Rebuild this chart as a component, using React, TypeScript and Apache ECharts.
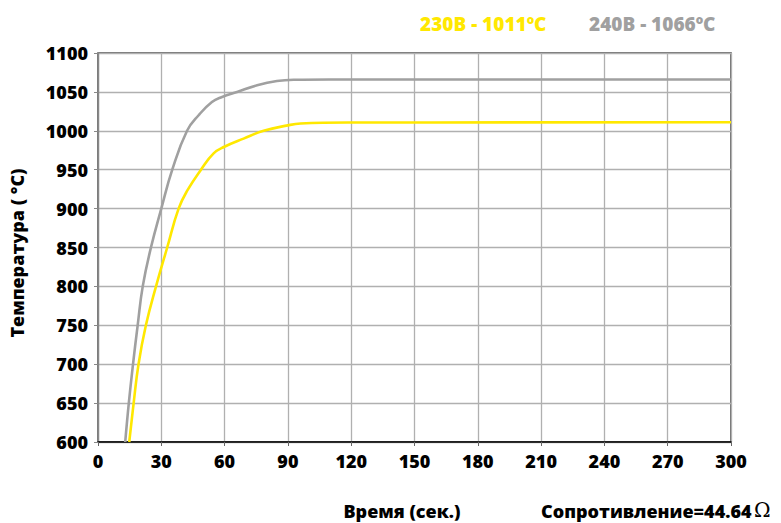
import React, { useEffect, useRef } from "react";
import * as echarts from "echarts";

const xTicks = [0, 30, 60, 90, 120, 150, 180, 210, 240, 270, 300];
const yTicks = [600, 650, 700, 750, 800, 850, 900, 950, 1000, 1050, 1100];

const time240 = [12.9, 14.6, 16.6, 18.8, 21.2, 25.1, 30, 35.2, 42.2, 47.7, 54, 58.8, 65.9, 75.4, 84.8, 92.7, 110, 300];
const temp240 = [600, 650, 700, 750, 800, 850, 900, 950, 1000, 1020, 1037, 1043.5, 1050, 1058.5, 1064, 1065.7, 1066, 1066];

const time230 = [14.8, 16.9, 19.2, 22.7, 27.5, 32.8, 38.2, 42.5, 48.8, 54.8, 59.9, 69, 78.5, 90, 96, 119.6, 300];
const temp230 = [600, 650, 700, 750, 800, 850, 900, 924, 950, 971, 979.5, 990, 1000, 1007, 1009.3, 1010.6, 1011];

const legend230 = "230B - 1011ºC";
const legend240 = "240B - 1066ºC";
const xTitle = "Время (сек.)";
const yTitle = "Температура ( °C)";
const resistance = "Сопротивление=44.64";

const FONT = "'Open Sans', 'Noto Sans', sans-serif";
const W = 800;

export default function App() {
  const ref = useRef<HTMLDivElement>(null);
  useEffect(() => {
    if (!ref.current) return;
    const chart = echarts.init(ref.current, null, { renderer: "svg" });
    const toPairs = (t: number[], v: number[]) => t.map((x, i) => [x, v[i]]);
    chart.setOption({
      animation: false,
      grid: {
        left: 98,
        right: 50,
        top: 53,
        bottom: 81,
        show: true,
        borderColor: "#444",
        borderWidth: 1.5,
      },
      xAxis: {
        type: "value",
        min: xTicks[0],
        max: xTicks[xTicks.length - 1],
        interval: 30,
        axisLine: { show: true, lineStyle: { color: "#000", width: 1.5 } },
        axisTick: { show: true, length: 4, lineStyle: { color: "#666" } },
        axisLabel: {
          color: "#000",
          fontFamily: FONT,
          fontWeight: W,
          fontSize: 18,
          margin: 10,
          formatter: (v: number) => String(v),
        },
        splitLine: { show: true, lineStyle: { color: "#b0b0b0", width: 1.3 } },
      },
      yAxis: {
        type: "value",
        min: yTicks[0],
        max: yTicks[yTicks.length - 1],
        interval: 50,
        axisLine: { show: true, lineStyle: { color: "#888", width: 1.3 } },
        axisTick: { show: true, length: 4, lineStyle: { color: "#888" } },
        axisLabel: {
          color: "#000",
          fontFamily: FONT,
          fontWeight: W,
          fontSize: 18,
          margin: 10,
          formatter: (v: number) => String(v),
        },
        splitLine: { show: true, lineStyle: { color: "#b0b0b0", width: 1.3 } },
      },
      series: [
        {
          name: legend240,
          type: "line",
          data: toPairs(time240, temp240),
          smooth: 0.45,
          showSymbol: false,
          lineStyle: { color: "#a0a0a0", width: 2.6 },
          z: 3,
        },
        {
          name: legend230,
          type: "line",
          data: toPairs(time230, temp230),
          smooth: 0.45,
          showSymbol: false,
          lineStyle: { color: "#ffe800", width: 2.6 },
          z: 4,
        },
      ],
      graphic: [
        {
          type: "text",
          x: 420,
          y: 24,
          style: { text: legend230, fill: "#ffe800", font: `${W} 19px ${FONT}`, verticalAlign: "middle" },
        },
        {
          type: "text",
          x: 589,
          y: 24,
          style: { text: legend240, fill: "#a0a0a0", font: `${W} 19px ${FONT}`, verticalAlign: "middle" },
        },
        {
          type: "text",
          x: 17,
          y: 253,
          rotation: Math.PI / 2,
          style: {
            text: yTitle,
            fill: "#000",
            font: `${W} 18px ${FONT}`,
            align: "center",
            verticalAlign: "middle",
          },
        },
        {
          type: "text",
          x: 402,
          y: 511,
          style: {
            text: xTitle,
            fill: "#000",
            font: `${W} 18px ${FONT}`,
            align: "center",
            verticalAlign: "middle",
          },
        },
        {
          type: "text",
          x: 541,
          y: 511,
          style: {
            text: resistance,
            fill: "#000",
            font: `${W} 18px ${FONT}`,
            align: "left",
            verticalAlign: "middle",
          },
        },
        {
          type: "text",
          x: 754,
          y: 510,
          style: {
            text: "Ω",
            fill: "#000",
            font: `20px 'DejaVu Serif', serif`,
            align: "left",
            verticalAlign: "middle",
          },
        },
      ],
    });
    return () => chart.dispose();
  }, []);
  return <div ref={ref} style={{ width: 781, height: 523, position: "absolute", left: 0, top: 0 }} />;
}
